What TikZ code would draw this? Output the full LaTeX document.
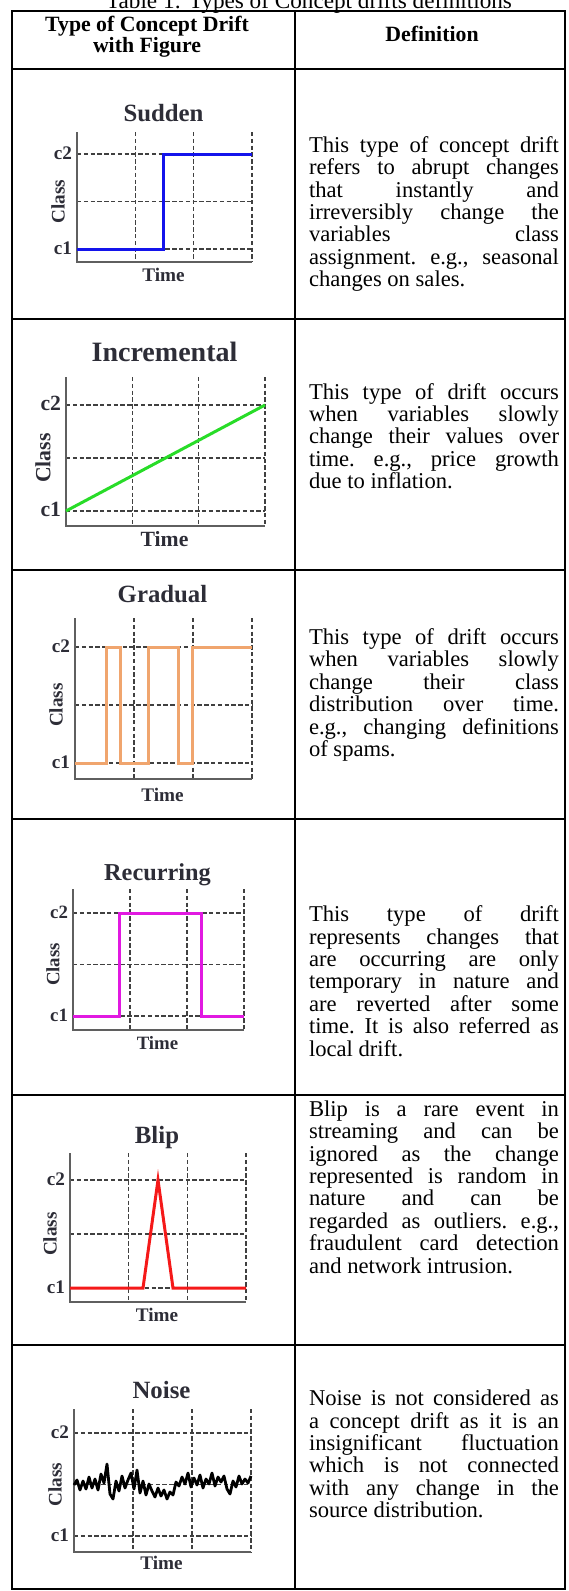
\documentclass[tikz,border=0pt]{standalone}
\usepackage{fontspec}
\setmainfont{Liberation Serif}
\usetikzlibrary{positioning}
\definecolor{suddenblue}{RGB}{20,20,235}
\definecolor{incgreen}{RGB}{40,220,40}
\definecolor{gradorange}{RGB}{240,165,110}
\definecolor{recmagenta}{RGB}{225,25,225}
\definecolor{blipred}{RGB}{245,25,25}
\definecolor{axisgray}{RGB}{95,95,95}
\definecolor{labelgray}{RGB}{45,45,55}
\tolerance=9999
\hyphenpenalty=10000
\begin{document}
\begin{tikzpicture}[x=0.5pt, y=-0.5pt,
  every node/.style={inner sep=0pt, outer sep=0pt},
  rule/.style={line width=1pt},
  headtext/.style={font=\fontsize{10.9}{10.7}\selectfont\bfseries, align=center},
  deftext/.style={font=\fontsize{11.3}{11.2}\selectfont\frenchspacing, text width=125pt, align=justify},
  axisline/.style={axisgray, line width=1pt},
  gridline/.style={black!75, line width=0.7pt, dash pattern=on 2.2pt off 1.2pt},
  charttitle/.style={font=\fontsize{12.4}{13}\selectfont\bfseries, text=labelgray},
  chartlabel/.style={font=\fontsize{9.6}{10}\selectfont\bfseries, text=labelgray},
  driftline/.style={line width=1.5pt, line join=miter}]

  \useasboundingbox (0,0) rectangle (568,1591);

  % caption and table rules
  \node[font=\fontsize{11.6}{12}\selectfont, anchor=base] (tabtitle) at (309,8) {Table 1: Types of Concept drifts definitions};
  \draw[rule] (12,11) rectangle (565,1589);
  \draw[rule] (295,11) -- (295,1589);
  \foreach \ry in {69,319,570,819,1095,1345}
    \draw[rule] (12,\ry) -- (565,\ry);

  \node[headtext] (headfig) at (147,37) {Type of Concept Drift\\with Figure};
  \node[headtext] (headdef) at (432,34) {Definition};

  % one small chart per row
  \foreach \nm/\xa/\xb/\yt/\yh/\yl/\yb/\ttl/\tty/\tiy/\clx/\sc in {
      sudden/77/252/132/154/249/262/Sudden/113/275/58/1.0,
      incremental/66/265/377/405/511/526/Incremental/353/540/43/1.13,
      gradual/75/252/618/647/763/779/Gradual/594/795/56/1.0,
      recurring/73/244/889/913/1016/1030/Recurring/872/1043/53/0.98,
      blip/70/246/1153/1180/1288/1302/Blip/1135/1315/50/1.0,
      noise/74/251/1409/1433/1536/1552/Noise/1390/1563/55/1.0} {
    \foreach \f in {1,2,3}
      \draw[gridline] ({\xa+\f*(\xb-\xa)/3},\yt) -- ({\xa+\f*(\xb-\xa)/3},\yb);
    \draw[gridline] (\xa,\yh) -- (\xb,\yh);
    \draw[gridline] (\xa,{(\yh+\yl)/2}) -- (\xb,{(\yh+\yl)/2});
    \draw[gridline] (\xa,\yl) -- (\xb,\yl);
    \draw[axisline] (\xa,\yt) -- (\xa,\yb) -- (\xb,\yb);
    \node[charttitle, scale=\sc, anchor=base] (\nm-title) at ({(\xa+\xb)/2-1},{\tty+8}) {\ttl};
    \node[chartlabel, scale=\sc, anchor=base] (\nm-time) at ({(\xa+\xb)/2-1},{\tiy+6}) {Time};
    \node[chartlabel, scale=\sc, anchor=base east] (\nm-c2) at ({\xa-5},{\yh+5}) {c2};
    \node[chartlabel, scale=\sc, anchor=base east] (\nm-c1) at ({\xa-5},{\yl+5}) {c1};
    \node[chartlabel, scale=\sc, rotate=90] (\nm-class) at (\clx,{(\yh+\yl)/2}) {Class};
  }

  % drift curves
  \draw[driftline, suddenblue] (77,249) -- (163,249) -- (163,154) -- (252,154);
  \draw[driftline, incgreen] (66,511) -- (265,405);
  \draw[driftline, gradorange] (75,763) -- (106,763) -- (106,647) -- (120,647) -- (120,763)
    -- (148,763) -- (148,647) -- (178,647) -- (178,763) -- (192,763) -- (192,647) -- (252,647);
  \draw[driftline, recmagenta] (73,1016) -- (119,1016) -- (119,913) -- (201,913) -- (201,1016) -- (244,1016);
  \draw[driftline, blipred] (70,1288) -- (143,1288) -- (158,1180) -- (173,1288) -- (246,1288);
  \draw[driftline, black, line width=1.4pt, line join=round] plot coordinates {
    (74,1485) (77,1480) (80,1490) (83,1481) (86,1489) (89,1477) (92,1488) (95,1479) (98,1490)
    (101,1474) (104,1483) (107,1464) (110,1494) (113,1499) (116,1481) (119,1491) (122,1476)
    (125,1488) (128,1480) (131,1473) (134,1489) (137,1470) (140,1493) (143,1481) (146,1495)
    (149,1484) (152,1491) (155,1497) (158,1488) (161,1496) (164,1490) (167,1499) (170,1492)
    (173,1495) (176,1482) (179,1486) (182,1477) (185,1484) (188,1473) (191,1487) (194,1478)
    (197,1485) (200,1475) (203,1488) (206,1479) (209,1484) (212,1473) (215,1486) (218,1477)
    (221,1482) (224,1476) (227,1489) (230,1494) (233,1481) (236,1487) (239,1476) (242,1484)
    (245,1479) (248,1483) (251,1476)};

  % definitions
  \node[deftext] (defsudden) at (434,214) {This type of concept drift\linebreak refers to abrupt changes\linebreak that instantly and\linebreak irreversibly change the\linebreak variables class\linebreak assignment. e.g., seasonal\linebreak changes on sales.};
  \node[deftext] (defincremental) at (434,436) {This type of drift occurs\linebreak when variables slowly\linebreak change their values over\linebreak time. e.g., price growth\linebreak due to inflation.};
  \node[deftext] (defgradual) at (434,695) {This type of drift occurs\linebreak when variables slowly\linebreak change their class\linebreak distribution over time.\linebreak e.g., changing definitions\linebreak of spams.};
  \node[deftext] (defrecurring) at (434,981) {This type of drift\linebreak represents changes that\linebreak are occurring are only\linebreak temporary in nature and\linebreak are reverted after some\linebreak time. It is also referred as\linebreak local drift.};
  \node[deftext] (defblip) at (434,1187) {Blip is a rare event in\linebreak streaming and can be\linebreak ignored as the change\linebreak represented is random in\linebreak nature and can be\linebreak regarded as outliers. e.g.,\linebreak fraudulent card detection\linebreak and network intrusion.};
  \node[deftext] (defnoise) at (434,1454) {Noise is not considered as\linebreak a concept drift as it is an\linebreak insignificant fluctuation\linebreak which is not connected\linebreak with any change in the\linebreak source distribution.};
\end{tikzpicture}
\end{document}
